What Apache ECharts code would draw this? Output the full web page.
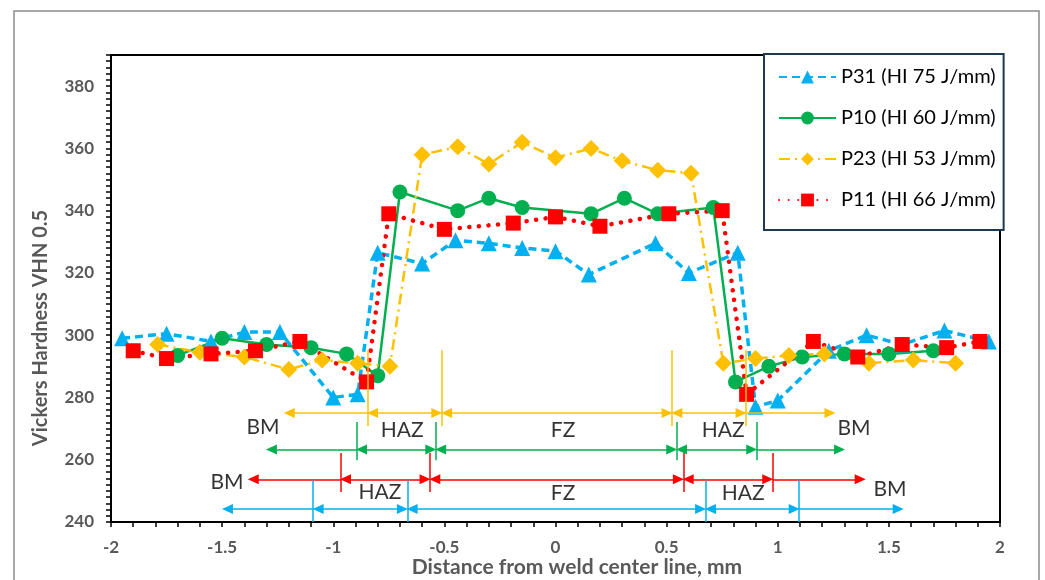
<!DOCTYPE html>
<html>
<head>
<meta charset="utf-8">
<title>Vickers hardness across the weld</title>
<script src="https://cdn.jsdelivr.net/npm/echarts@6/dist/echarts.min.js"></script>
<style>
  html, body { margin: 0; padding: 0; background: #fff; }
  #chart { width: 1045px; height: 580px; }
</style>
</head>
<body>
<div id="chart"></div>
<script>
  // hardness traverses, [distance from weld centre (mm), HV0.5]
  const p31Points = [[-1.95, 299], [-1.75, 300.5], [-1.55, 298], [-1.4, 301], [-1.24, 301], [-1.0, 280], [-0.89, 281],
    [-0.8, 326.5], [-0.6, 323], [-0.45, 330.5], [-0.3, 329.5], [-0.15, 328], [0, 327], [0.15, 319.5], [0.45, 329.5],
    [0.6, 320], [0.82, 326.5], [0.9, 277], [1.0, 279], [1.23, 295], [1.4, 300], [1.56, 297], [1.75, 301.5], [1.95, 298]];
  const p10Points = [[-1.7, 293.5], [-1.5, 299], [-1.3, 297], [-1.1, 296], [-0.94, 294], [-0.8, 287], [-0.7, 346],
    [-0.44, 340], [-0.3, 344], [-0.15, 341], [0.16, 339], [0.31, 344], [0.46, 339], [0.71, 341], [0.81, 285],
    [0.96, 290], [1.11, 293], [1.3, 294], [1.5, 294], [1.7, 295]];
  const p23Points = [[-1.79, 297], [-1.6, 294.5], [-1.4, 293], [-1.2, 289], [-1.05, 292], [-0.89, 291], [-0.745, 290],
    [-0.6, 358], [-0.44, 360.5], [-0.3, 355], [-0.15, 362], [0, 357], [0.16, 360], [0.3, 356], [0.46, 353],
    [0.61, 352], [0.755, 291], [0.9, 292.5], [1.05, 293.5], [1.21, 294], [1.41, 291], [1.61, 292], [1.8, 291]];
  const p11Points = [[-1.9, 295], [-1.75, 292.5], [-1.55, 294], [-1.35, 295], [-1.15, 298], [-0.85, 285], [-0.75, 339],
    [-0.5, 334], [-0.19, 336], [0, 338], [0.2, 335], [0.51, 339], [0.75, 340], [0.86, 281], [1.16, 298],
    [1.36, 293], [1.56, 297], [1.76, 296], [1.91, 298]];

  const seriesNames = ['P31 (HI 75 J/mm)', 'P10 (HI 60 J/mm)', 'P23 (HI 53 J/mm)', 'P11 (HI 66 J/mm)'];

  // zone limits (mm): outer BM end, BM|HAZ, HAZ|FZ, FZ|HAZ, HAZ|BM, outer BM end
  const zonesP23 = [-1.22, -0.845, -0.512, 0.524, 0.857, 1.257];
  const zonesP10 = [-1.30, -0.895, -0.539, 0.545, 0.905, 1.30];
  const zonesP11 = [-1.382, -0.967, -0.565, 0.575, 0.977, 1.393];
  const zonesP31 = [-1.498, -1.09, -0.667, 0.675, 1.096, 1.564];

  // zone names written on the chart, [x, y, text]
  const zoneLabels = [[-1.316, 270.4, 'BM'], [-0.69, 269.5, 'HAZ'], [0.034, 269.5, 'FZ'], [0.754, 269.5, 'HAZ'],
    [1.343, 270.1, 'BM'], [-1.478, 252.8, 'BM'], [-0.79, 249.6, 'HAZ'], [0.034, 249.2, 'FZ'], [0.844, 249.2, 'HAZ'],
    [1.505, 250.5, 'BM']];

  const font = 'Lato, "Open Sans", sans-serif';

  // arrows + limit ticks for one sample, drawn as markLines
  function zoneRow(bounds, color, level, tickTop, tickBottom) {
    const inset = 0.022; // half an arrowhead, so the tip sits on the limit
    const head = { symbol: 'triangle', symbolSize: [10, 11] };
    const lines = [];
    lines.push([Object.assign({ coord: [bounds[0] + inset, level] }, head), { coord: [bounds[1], level], symbol: 'none' }]);
    for (let i = 1; i < 4; i++) {
      lines.push([
        Object.assign({ coord: [bounds[i] + inset, level] }, head),
        Object.assign({ coord: [bounds[i + 1] - inset, level] }, head)
      ]);
    }
    lines.push([{ coord: [bounds[4], level], symbol: 'none' }, Object.assign({ coord: [bounds[5] - inset, level] }, head)]);
    for (let i = 1; i <= 4; i++) {
      lines.push([{ coord: [bounds[i], tickTop], symbol: 'none' }, { coord: [bounds[i], tickBottom], symbol: 'none' }]);
    }
    return {
      type: 'line',
      data: [],
      markLine: {
        silent: true,
        animation: false,
        symbol: ['none', 'none'],
        label: { show: false },
        emphasis: { disabled: true },
        lineStyle: { color: color, width: 1.5, type: 'solid' },
        data: lines
      }
    };
  }

  const chart = echarts.init(document.getElementById('chart'));
  chart.setOption({
    animation: false,
    graphic: [
      {
        type: 'rect', z: -10,
        shape: { x: 14, y: 11, width: 1025, height: 600 },
        style: { fill: 'none', stroke: '#8c8c8c', lineWidth: 1.5 }
      },
      {
        type: 'text', x: 41, y: 328, rotation: Math.PI / 2,
        style: {
          text: 'Vickers Hardness VHN 0.5', fill: '#595959', font: 'bold 20px ' + font,
          align: 'center', verticalAlign: 'middle'
        }
      },
      {
        type: 'text', x: 577, y: 567,
        style: {
          text: 'Distance from weld center line, mm', fill: '#595959', font: 'bold 21px ' + font,
          align: 'center', verticalAlign: 'middle'
        }
      }
    ],
    grid: {
      left: 111, right: 45, top: 55, bottom: 58,
      show: true, borderColor: '#000', borderWidth: 2
    },
    legend: {
      data: seriesNames,
      orient: 'vertical',
      left: 764, top: 54,
      backgroundColor: '#fff',
      borderColor: '#1f3a50',
      borderWidth: 2,
      padding: [13, 8, 20, 14],
      itemWidth: 57, itemHeight: 16, itemGap: 21,
      textStyle: { fontFamily: font, fontSize: 20, color: '#000', lineHeight: 20 }
    },
    xAxis: {
      type: 'value',
      min: -2, max: 2, interval: 0.5,
      splitLine: { show: false },
      axisLine: { onZero: false, lineStyle: { color: '#000', width: 2 } },
      axisTick: { length: 5, lineStyle: { color: '#000', width: 1.5 } },
      minorTick: { show: true, splitNumber: 5, length: 5, lineStyle: { color: '#000', width: 1.5 } },
      axisLabel: { margin: 17, color: '#595959', fontFamily: font, fontSize: 17, fontWeight: 'bold' }
    },
    yAxis: {
      type: 'value',
      min: 240, max: 390, interval: 2,
      splitLine: { show: false },
      axisLine: { show: true, onZero: false, lineStyle: { color: '#000', width: 2 } },
      axisTick: { show: true, length: 5, lineStyle: { color: '#000', width: 1.5 } },
      axisLabel: {
        margin: 17, color: '#595959', fontFamily: font, fontSize: 17, fontWeight: 'bold',
        formatter: v => (v % 20 === 0 ? String(v) : '')
      }
    },
    series: [
      zoneRow(zonesP23, '#FFC000', 275, 295.2, 270.8),
      zoneRow(zonesP10, '#00B050', 263.3, 272.1, 259.8),
      zoneRow(zonesP11, '#FF0000', 253.7, 262.2, 249.6),
      zoneRow(zonesP31, '#00B0F0', 244.2, 253.4, 240),
      {
        name: seriesNames[0], type: 'line', data: p31Points, showAllSymbol: true,
        symbol: 'triangle', symbolSize: 16,
        itemStyle: { color: '#00B0F0' },
        lineStyle: { color: '#00B0F0', width: 3.5, type: [8, 5] }
      },
      {
        name: seriesNames[1], type: 'line', data: p10Points, showAllSymbol: true,
        symbol: 'circle', symbolSize: 15,
        itemStyle: { color: '#00B050' },
        lineStyle: { color: '#00B050', width: 2.5, type: 'solid' }
      },
      {
        name: seriesNames[2], type: 'line', data: p23Points, showAllSymbol: true,
        symbol: 'diamond', symbolSize: 17,
        itemStyle: { color: '#FFC000' },
        lineStyle: { color: '#FFC000', width: 2.5, type: [11, 5, 2, 5] }
      },
      {
        name: seriesNames[3], type: 'line', data: p11Points, showAllSymbol: true,
        symbol: 'rect', symbolSize: 15,
        itemStyle: { color: '#FF0000' },
        lineStyle: { color: '#FF0000', width: 4.5, type: [0.1, 9.5], cap: 'round' }
      },
      {
        type: 'scatter', data: zoneLabels, symbolSize: 0, silent: true,
        label: {
          show: true, position: 'inside', formatter: p => p.value[2],
          color: '#000', fontFamily: font, fontSize: 21
        }
      }
    ]
  });
</script>
</body>
</html>
